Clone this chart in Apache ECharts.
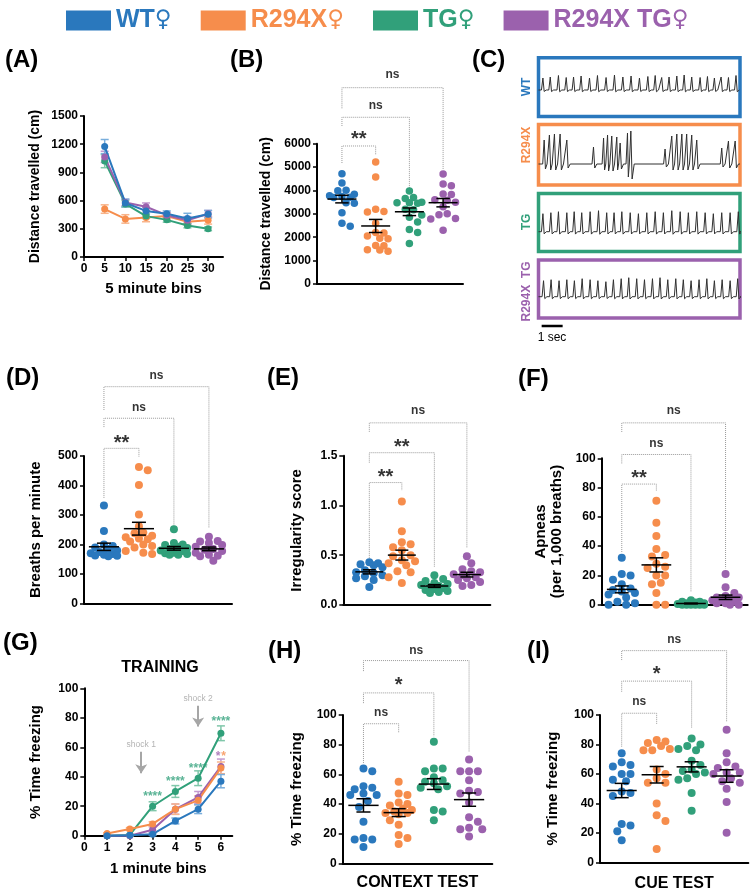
<!DOCTYPE html>
<html><head><meta charset="utf-8">
<script src="https://cdn.jsdelivr.net/npm/echarts@6/dist/echarts.min.js"></script>
<style>html,body{margin:0;padding:0;background:#fff}#c{width:753px;height:895px}</style>
</head><body><div id="c"></div>
<script>
// ================= DATA =================
const groups = ['WT♀', 'R294X♀', 'TG♀', 'R294X TG♀'];
const cats = [1, 2, 3, 4];

// (A) distance per 5-minute bin
const binsA = [5, 10, 15, 20, 25, 30];
const ticksA = [0, 5, 10, 15, 20, 25, 30];
const distA_WT = [1175, 575, 490, 460, 410, 455];
const semA_WT = [75, 40, 40, 30, 55, 40];
const distA_R294X = [510, 405, 420, 435, 375, 390];
const semA_R294X = [45, 45, 45, 35, 30, 40];
const distA_TG = [1020, 565, 435, 395, 335, 300];
const semA_TG = [70, 35, 25, 25, 25, 20];
const distA_R294XTG = [1065, 580, 535, 445, 390, 460];
const semA_R294XTG = [60, 35, 40, 30, 40, 35];

// (B) total distance travelled
const distB_WT = [4720, 4320, 4010, 3990, 3840, 3770, 3740, 3710, 3700, 3480, 3450, 3050, 2600, 2470];
const distB_R294X = [5220, 4580, 3200, 3100, 3080, 2600, 2200, 2180, 2050, 1960, 1940, 1650, 1640, 1460, 1450, 1400];
const distB_TG = [3980, 3700, 3660, 3500, 3480, 3470, 3450, 3200, 3180, 2950, 2850, 2650, 2330, 2200, 1730];
const distB_R294XTG = [4700, 4280, 4200, 3850, 3830, 3600, 3580, 3500, 3300, 3000, 2960, 2800, 2780, 2300];

// (C) breathing traces: peak times (s), amplitudes, troughs
const traceWT_t = [0.21,0.56,0.95,1.32,1.67,2.03,2.43,2.81,3.22,3.62,4.02,4.41,4.81,5.21,5.56,5.87,6.22,6.59,6.94,7.30,7.70,8.05,8.38,8.70,9.05,9.41];
const traceWT_a = [1.2,1.3,1.45,1.25,1.3,1.4,1.2,1.45,1.25,1.5,1.3,1.4,1.2,1.35,1.45,1.25,1.3,1.4,1.5,1.3,1.25,1.35,1.2,1.3,1.25,1.45];
const traceR294X_t = [0.27,0.52,0.76,1.03,1.35,2.62,3.10,3.29,3.49,3.73,3.89,4.24,4.40,6.03,6.35,6.59,6.83,7.06,7.30,7.54,8.73,9.05,9.37];
const traceR294X_a = [2.4,2.9,3.0,3.0,2.4,1.7,2.6,2.9,2.8,2.7,2.1,3.1,3.3,1.5,2.8,3.0,3.0,3.0,2.9,2.4,1.6,2.3,2.3];
const traceR294X_tr = [-0.5,-0.6,-0.6,-0.6,-0.4,-0.4,-0.6,-0.7,-0.7,-0.6,-0.5,-1.3,-1.5,-0.3,-0.6,-0.6,-0.6,-0.6,-0.6,-0.5,-0.3,-0.4,-0.4];
const traceTG_t = [0.21,0.59,0.95,1.35,1.70,2.06,2.46,2.86,3.25,3.60,3.97,4.37,4.76,5.16,5.56,5.95,6.35,6.75,7.14,7.54,7.94,8.33,8.73,9.13,9.52];
const traceTG_a = [1.8,1.9,2.0,1.9,2.0,1.9,2.0,2.1,1.9,1.9,2.0,1.9,1.8,1.9,2.0,1.9,2.1,2.0,1.9,2.0,1.9,1.8,1.9,1.9,2.0];
const traceR294XTG_t = [0.24,0.60,0.98,1.35,1.71,2.08,2.46,2.83,3.21,3.57,3.94,4.30,4.68,5.05,5.43,5.79,6.16,6.54,6.90,7.27,7.65,8.02,8.38,8.75,9.13,9.49];
const traceR294XTG_a = [1.6,1.7,1.6,1.7,1.6,1.8,1.7,1.6,1.5,1.7,1.8,1.9,1.8,1.7,1.8,1.9,1.7,1.8,1.7,1.6,1.7,1.8,1.6,1.7,1.6,1.8];
const traceLabels = ['WT', 'R294X', 'TG', 'R294X  TG'];
const scaleBarSec = [0.15, 1.15];

// (D) breaths per minute
const bpm_WT = [332, 246, 200, 195, 190, 185, 180, 175, 170, 168, 165, 163, 162, 160];
const bpm_R294X = [463, 452, 402, 302, 262, 240, 238, 230, 225, 220, 218, 210, 200, 195, 190, 178, 172, 168];
const bpm_TG = [252, 205, 200, 198, 192, 188, 185, 180, 178, 172, 170, 168, 165, 165];
const bpm_R294XTG = [226, 212, 210, 205, 198, 192, 185, 182, 178, 172, 165, 162, 160, 145];

// (E) irregularity score
const irr_WT = [0.43, 0.42, 0.41, 0.40, 0.38, 0.35, 0.33, 0.32, 0.30, 0.29, 0.27, 0.25, 0.18];
const irr_R294X = [1.04, 0.74, 0.63, 0.61, 0.58, 0.55, 0.50, 0.49, 0.44, 0.45, 0.42, 0.40, 0.34, 0.33, 0.28, 0.22];
const irr_TG = [0.30, 0.26, 0.24, 0.22, 0.21, 0.20, 0.19, 0.18, 0.17, 0.16, 0.15, 0.14, 0.13, 0.12];
const irr_R294XTG = [0.49, 0.42, 0.36, 0.34, 0.33, 0.31, 0.30, 0.28, 0.27, 0.25, 0.23, 0.20, 0.19];

// (F) apneas per 1,000 breaths
const apn_WT = [32, 21, 20, 17, 14, 10, 11, 8, 9, 7, 5, 2, 1, 0, 0];
const apn_R294X = [71, 56, 47, 38, 34, 33, 28, 26, 25, 20, 20, 15, 14, 8, 0, 0];
const apn_TG = [3, 2, 2, 1.5, 1, 1, 0.5, 0.5, 0, 0, 0, 0, 0, 0];
const apn_R294XTG = [21, 12, 8, 6, 5, 5, 4, 3, 3, 2, 1, 1, 0, 0];

// (G) training freezing per 1-minute bin
const binsG = [1, 2, 3, 4, 5, 6];
const ticksG = [0, 1, 2, 3, 4, 5, 6];
const frzG_WT = [0, 0.3, 1, 10, 18, 37];
const semG_WT = [0, 0.3, 0.8, 2, 3, 4.5];
const frzG_R294X = [1.5, 4.5, 8, 18, 24, 46];
const semG_R294X = [0.5, 1, 1.5, 3.5, 3, 4];
const frzG_TG = [0, 0.5, 20, 30, 39, 69.5];
const semG_TG = [0, 0.5, 3, 4, 5, 5];
const frzG_R294XTG = [0, 0, 4, 18, 26, 47];
const semG_R294XTG = [0, 0, 2, 3.5, 4, 5];
const starsG_TG = [[3, 28.8, '****'], [4, 38.5, '****'], [5, 47.5, '****'], [6, 79.2, '****']];
const starsG_R294XTG = [[5.88, 55.4, '*']];
const starsG_R294X = [[6.12, 55.4, '*']];
const shocksG = [[2.5, 57, 42.3, 'shock 1', 62], [5, 88.2, 74, 'shock 2', 92.7]];

// (H) context test
const ctx_WT = [64, 62, 52, 51, 50, 47, 46, 46, 42, 38, 28, 17, 16, 16, 11];
const ctx_R294X = [55, 47, 46, 41, 40, 39, 37, 36, 35, 34, 34, 33, 29, 26, 19, 17, 13];
const ctx_TG = [82, 64, 64, 62, 58, 56, 55, 54, 52, 51, 50, 36, 35, 29];
const ctx_R294XTG = [70, 62, 62, 62, 56, 49, 48, 47, 41, 31, 28, 24, 23, 23, 18];

// (I) cue test
const cue_WT = [74, 68, 66, 65, 60, 60, 56, 55, 48, 47, 45, 26, 25, 21, 15];
const cue_R294X = [83, 82, 81, 79, 77, 76, 76, 63, 60, 57, 54, 54, 40, 32, 28, 9];
const cue_TG = [84, 80, 79, 77, 76, 69, 66, 63, 62, 61, 60, 57, 56, 47, 35];
const cue_R294XTG = [90, 74, 68, 65, 64, 61, 61, 60, 57, 55, 54, 50, 41, 20];

// significance brackets: [from, to, level, leftEnd, rightEnd, label, labelLevel]
const sigB = [[1,2,5902,5175,5517,'**',6373],[1,3,7130,6758,3879,'ns',7613],[1,4,8396,7514,4905,'ns',8939]];
const sigD = [[1,2,526,358,498,'**',561],[1,3,628,598,260,'ns',664],[1,4,735,656,256,'ns',772]];
const sigE = [[1,2,1.23,0.45,1.15,'**',1.33],[1,3,1.53,1.43,0.385,'**',1.63],[1,4,1.83,1.74,0.57,'ns',1.95]];
const sigF = [[1,2,82.4,36,77.8,'**',89.3],[1,3,102.6,96.5,8.9,'ns',110.2],[1,4,124.2,118,24.8,'ns',132.3]];
const sigH = [[1,2,94.1,67.6,87.8,'ns',101.8],[1,3,114.9,108,85.5,'*',123.5],[1,4,136.7,129.6,75.4,'ns',143.3]];
const sigI = [[1,2,101.2,78.5,93.9,'ns',109],[1,3,123,115.8,91,'*',130.6],[1,4,143.7,137.3,95.5,'ns',151]];

// ================= STYLE / LAYOUT =================
const FONT = "'Liberation Sans', Arial, Helvetica, sans-serif";
const BLACK = '#000';
const colors = ['#2a78bd', '#f68d4c', '#31a07a', '#9b61ad'];
const lightColors = ['#79aedc', '#f9b48a', '#80c7aa', '#c39ad0'];
const BRACKET = '#9a9a9a';

const G = [
  {left:84, top:116, width:139, height:141},          // 0 A
  {left:317, top:143.7, width:146, height:140.3},     // 1 B
  {left:538.5, top:57.8, width:201.5, height:58.8},   // 2 C WT
  {left:538.5, top:124.5, width:201.5, height:60.5},  // 3 C R294X
  {left:538.5, top:193.5, width:201.5, height:58},    // 4 C TG
  {left:538.5, top:260, width:201.5, height:58},      // 5 C R294X TG
  {left:84, top:456, width:148, height:147.5},        // 6 D
  {left:343.3, top:455.7, width:147, height:149.3},   // 7 E
  {left:601.7, top:458.3, width:146, height:146.4},   // 8 F
  {left:84.3, top:688.3, width:148, height:147.4},    // 9 G
  {left:342.7, top:715, width:149.6, height:148.3},   // 10 H
  {left:600, top:715, width:148.3, height:147.3}      // 11 I
];

const grids = G.map((g, i) => Object.assign({containLabel:false, outerBoundsMode:'none'}, g,
  (i >= 2 && i <= 5) ? {show:true, borderColor: colors[i-2], borderWidth:3.5, backgroundColor:'rgba(0,0,0,0)'} : {show:false}));

const xAxes = [], yAxes = [];
const axLine = {show:true, onZero:false, lineStyle:{color:BLACK, width:2}};
const tickCfg = {show:true, length:4, lineStyle:{color:BLACK, width:1.5}};
const lblCfg = {color:BLACK, fontWeight:'bold', fontSize:12, fontFamily:FONT, margin:6};
const plain = v => String(v);

function yAx(gi, min, max, interval, name, gap, size, fmt) {
  return {type:'value', gridIndex:gi, min, max, interval, name, nameLocation:'middle', nameGap:gap, nameRotate:90,
    nameTextStyle:{color:BLACK, fontWeight:'bold', fontSize:size, fontFamily:FONT, lineHeight:16},
    axisLine:axLine, axisTick:tickCfg, axisLabel:Object.assign({}, lblCfg, {formatter: fmt || plain}), splitLine:{show:false}};
}
function xCat(gi, min, max, name, gap) {
  return {type:'value', gridIndex:gi, min, max, name: name || '', nameLocation:'middle', nameGap:gap || 10,
    nameTextStyle:{color:BLACK, fontWeight:'bold', fontSize:16, fontFamily:FONT},
    axisLine:axLine, axisTick:{show:false}, axisLabel:{show:false}, splitLine:{show:false}};
}
function xNum(gi, min, max, ticks, name, gap) {
  return {type:'value', gridIndex:gi, min, max, name, nameLocation:'middle', nameGap:gap,
    nameTextStyle:{color:BLACK, fontWeight:'bold', fontSize:15, fontFamily:FONT},
    axisLine:axLine, axisTick:Object.assign({customValues:ticks}, tickCfg),
    axisLabel:Object.assign({customValues:ticks}, lblCfg, {formatter: v => (ticks.indexOf(v) >= 0 ? String(v) : '')}),
    splitLine:{show:false}};
}
function xHidden(gi, min, max) { return {type:'value', gridIndex:gi, min, max, show:false}; }
function yHidden(gi, min, max) { return {type:'value', gridIndex:gi, min, max, show:false}; }

// axes per grid
xAxes[0] = xNum(0, 0, 33.6, ticksA, '5 minute bins', 24);
yAxes[0] = yAx(0, 0, 1500, 300, 'Distance travelled (cm)', 41, 14);
xAxes[1] = xCat(1, 0.26, 4.59);
yAxes[1] = yAx(1, 0, 6000, 1000, 'Distance travelled (cm)', 43, 14);
const cY = [[-2.66, 3.22], [-2.1, 3.95], [-1.98, 3.82], [-2.13, 3.67]];
for (let k = 0; k < 4; k++) { xAxes[2+k] = xHidden(2+k, 0, 9.6); yAxes[2+k] = yHidden(2+k, cY[k][0], cY[k][1]); }
xAxes[6] = xCat(6, 0.43, 4.66);
yAxes[6] = yAx(6, 0, 500, 100, 'Breaths per minute', 40, 15);
xAxes[7] = xCat(7, 0.2, 4.72);
yAxes[7] = yAx(7, 0, 1.5, 0.5, 'Irregularity score', 38, 15, v => v.toFixed(1));
xAxes[8] = xCat(8, 0.42, 4.64);
yAxes[8] = yAx(8, 0, 100, 20, 'Apneas\n(per 1,000 breaths)', 37, 15);
xAxes[9] = xNum(9, 0, 6.5, ticksG, '1 minute bins', 26);
yAxes[9] = yAx(9, 0, 100, 20, '% Time freezing', 40, 15);
xAxes[10] = xCat(10, 0.41, 4.66, 'CONTEXT TEST', 11);
yAxes[10] = yAx(10, 0, 100, 20, '% Time freezing', 38, 15);
xAxes[11] = xCat(11, 0.38, 4.62, 'CUE TEST', 13);
yAxes[11] = yAx(11, 0, 100, 20, '% Time freezing', 39, 15);

// ================= HELPERS =================
const mean = a => a.reduce((s, v) => s + v, 0) / a.length;
const sem = a => { const m = mean(a); return Math.sqrt(a.reduce((s, v) => s + (v - m) * (v - m), 0) / (a.length - 1) / a.length); };

// beeswarm: spreads points horizontally (in pixels) so dots do not overlap
function swarm(vals, cat, gi, d) {
  const g = G[gi], xa = xAxes[gi], ya = yAxes[gi];
  const pxX = g.width / (xa.max - xa.min), pxY = g.height / (ya.max - ya.min);
  const maxOff = 0.46 * pxX, step = d * 0.55;
  const placed = [], out = [];
  const order = vals.map((v, i) => i).sort((a, b) => vals[b] - vals[a]);
  const cands = [0];
  for (let k = 1; k * step <= maxOff; k++) cands.push(k * step, -k * step);
  for (const i of order) {
    const py = vals[i] * pxY;
    let best = 0, bestScore = -1;
    for (const c of cands) {
      let minD = Infinity;
      for (const p of placed) { const dd = Math.hypot(p[0] - c, p[1] - py); if (dd < minD) minD = dd; }
      if (minD >= d * 0.98) { best = c; break; }
      if (minD > bestScore) { bestScore = minD; best = c; }
    }
    placed.push([best, py]);
    out[i] = [cat + best / pxX, vals[i]];
  }
  return out;
}

function meanRender(params, api) {
  const x = api.value(0), m = api.value(1), s = api.value(2);
  const L = (p1, p2) => ({type:'line', shape:{x1:p1[0], y1:p1[1], x2:p2[0], y2:p2[1]}, style:{stroke:BLACK, lineWidth:1.5}});
  return {type:'group', children:[
    L(api.coord([x - 0.43, m]), api.coord([x + 0.43, m])),
    L(api.coord([x, m + s]), api.coord([x, m - s])),
    L(api.coord([x - 0.2, m + s]), api.coord([x + 0.2, m + s])),
    L(api.coord([x - 0.2, m - s]), api.coord([x + 0.2, m - s]))
  ]};
}
function errRender(color) {
  return function (params, api) {
    const x = api.value(0), y = api.value(1), e = api.value(2);
    if (!e) return null;
    const t = api.coord([x, y + e]), b = api.coord([x, y - e]), w = 4;
    const st = {stroke:color, lineWidth:1.5};
    return {type:'group', children:[
      {type:'line', shape:{x1:t[0], y1:t[1], x2:b[0], y2:b[1]}, style:st},
      {type:'line', shape:{x1:t[0]-w, y1:t[1], x2:t[0]+w, y2:t[1]}, style:st},
      {type:'line', shape:{x1:b[0]-w, y1:b[1], x2:b[0]+w, y2:b[1]}, style:st}
    ]};
  };
}

const series = [];
const base = {silent:true, animation:false};

function linePanel(gi, xs, ys, es, order) {
  order.forEach(k => {
    series.push(Object.assign({type:'custom', xAxisIndex:gi, yAxisIndex:gi, renderItem:errRender(lightColors[k]),
      data: xs.map((x, i) => [x, ys[k][i], es[k][i]]), z:2}, base));
  });
  order.forEach(k => {
    series.push(Object.assign({type:'line', name: gi === 0 ? groups[k] : undefined, xAxisIndex:gi, yAxisIndex:gi,
      data: xs.map((x, i) => [x, ys[k][i]]), symbol:'circle', symbolSize:7, showSymbol:true,
      lineStyle:{color:colors[k], width:2}, itemStyle:{color:colors[k]}, z:3, clip:false}, base));
  });
}

function dotPanel(gi, sets, sig, size) {
  sets.forEach((vals, k) => {
    series.push(Object.assign({type:'scatter', xAxisIndex:gi, yAxisIndex:gi, data: swarm(vals, cats[k], gi, size),
      symbolSize:size, itemStyle:{color:colors[k], opacity:1}, clip:false, z:3}, base));
  });
  series.push(Object.assign({type:'custom', xAxisIndex:gi, yAxisIndex:gi, renderItem:meanRender,
    data: sets.map((vals, k) => [cats[k], mean(vals), sem(vals)]), z:5}, base));
  sig.forEach(b => {
    series.push(Object.assign({type:'line', xAxisIndex:gi, yAxisIndex:gi,
      data:[[b[0], b[3]], [b[0], b[2]], [b[1], b[2]], [b[1], b[4]]], symbol:'none',
      lineStyle:{color:BRACKET, width:1, type:'dotted'}, clip:false, z:1}, base));
  });
  series.push(Object.assign({type:'scatter', xAxisIndex:gi, yAxisIndex:gi, symbolSize:1, clip:false, z:6,
    itemStyle:{color:'rgba(0,0,0,0)'},
    data: sig.map(b => {
      const star = b[5] !== 'ns';
      return {value:[(b[0] + b[1]) / 2, b[6], b[5]], label:{show:true, position:'inside', formatter:p => p.value[2],
        color:BLACK, fontWeight:'bold', fontFamily:FONT, fontSize: star ? 20 : 12, offset: star ? [0, 5] : [0, 0]}};
    })}, base));
}

function buildTrace(ts, as, trs) {
  const pts = [[0, 0]];
  for (let i = 0; i < ts.length; i++) {
    const t = ts[i], a = as[i], tr = trs ? trs[i] : -0.12 * a;
    const prevT = i > 0 ? ts[i-1] : -1, nextT = i < ts.length - 1 ? ts[i+1] : 99;
    const rise = Math.min(0.07, (t - prevT) * 0.4);
    const dip = Math.min(0.06, (nextT - t) * 0.25);
    const back = Math.min(0.16, (nextT - t) * 0.55);
    pts.push([t - rise, 0], [t, a], [t + dip, tr], [t + back, 0]);
  }
  pts.push([9.6, 0]);
  return pts;
}

// ================= SERIES =================
linePanel(0, binsA, [distA_WT, distA_R294X, distA_TG, distA_R294XTG], [semA_WT, semA_R294X, semA_TG, semA_R294XTG], [1, 2, 3, 0]);
dotPanel(1, [distB_WT, distB_R294X, distB_TG, distB_R294XTG], sigB, 7.5);

const traces = [buildTrace(traceWT_t, traceWT_a), buildTrace(traceR294X_t, traceR294X_a, traceR294X_tr),
                buildTrace(traceTG_t, traceTG_a), buildTrace(traceR294XTG_t, traceR294XTG_a)];
traces.forEach((tr, k) => {
  series.push(Object.assign({type:'line', xAxisIndex:2+k, yAxisIndex:2+k, data:tr, symbol:'none',
    lineStyle:{color:'#303030', width:1}, clip:true, z:2}, base));
});
series.push(Object.assign({type:'line', xAxisIndex:5, yAxisIndex:5, data:[[scaleBarSec[0], -2.93], [scaleBarSec[1], -2.93]],
  symbol:'none', lineStyle:{color:BLACK, width:2.5}, clip:false}, base));

dotPanel(6, [bpm_WT, bpm_R294X, bpm_TG, bpm_R294XTG], sigD, 8);
dotPanel(7, [irr_WT, irr_R294X, irr_TG, irr_R294XTG], sigE, 8);
dotPanel(8, [apn_WT, apn_R294X, apn_TG, apn_R294XTG], sigF, 8);
linePanel(9, binsG, [frzG_WT, frzG_R294X, frzG_TG, frzG_R294XTG], [semG_WT, semG_R294X, semG_TG, semG_R294XTG], [2, 3, 1, 0]);
// G annotations
[[starsG_TG, colors[2]], [starsG_R294XTG, colors[3]], [starsG_R294X, colors[1]]].forEach(([arr, col]) => {
  series.push(Object.assign({type:'scatter', xAxisIndex:9, yAxisIndex:9, symbolSize:1, clip:false, z:6,
    itemStyle:{color:'rgba(0,0,0,0)'}, data: arr.map(s => [s[0], s[1], s[2]]),
    label:{show:true, position:'inside', formatter:p => p.value[2], color:col, fontWeight:'bold', fontSize:12, fontFamily:FONT, offset:[0, 3]}}, base));
});
series.push(Object.assign({type:'scatter', xAxisIndex:9, yAxisIndex:9, symbolSize:1, clip:false, z:6,
  itemStyle:{color:'rgba(0,0,0,0)'}, data: shocksG.map(s => [s[0], s[4], s[3]]),
  label:{show:true, position:'inside', formatter:p => p.value[2], color:'#a0a0a0', fontSize:8.5, fontFamily:FONT},
  markLine:{silent:true, animation:false, symbol:['none', 'arrow'], symbolSize:9, label:{show:false},
    lineStyle:{color:'#a6a6a6', width:2, type:'solid'},
    data: shocksG.map(s => [{coord:[s[0], s[1]]}, {coord:[s[0], s[2]]}])}}, base));

dotPanel(10, [ctx_WT, ctx_R294X, ctx_TG, ctx_R294XTG], sigH, 8);
dotPanel(11, [cue_WT, cue_R294X, cue_TG, cue_R294XTG], sigI, 8);

// ================= TEXT =================
const panelLetters = [['(A)', 5, 60], ['(B)', 230, 60], ['(C)', 472, 60], ['(D)', 6, 378], ['(E)', 267, 378],
                      ['(F)', 518, 379], ['(G)', 3, 643], ['(H)', 268, 651], ['(I)', 527, 651]];
const graphics = panelLetters.map(p => ({type:'text', x:p[1], y:p[2], silent:true,
  style:{text:p[0], fill:BLACK, fontSize:24, fontWeight:'bold', fontFamily:FONT, align:'left', verticalAlign:'middle'}}));
const cLabelPos = [[527, 87], [527, 145], [527, 222], [527, 291.5]];
traceLabels.forEach((t, k) => graphics.push({type:'text', x:cLabelPos[k][0], y:cLabelPos[k][1], rotation:Math.PI/2, silent:true,
  style:{text:t, fill:colors[k], fontSize:12, fontWeight:'bold', fontFamily:FONT, align:'center', verticalAlign:'middle'}}));
graphics.push({type:'text', x:552, y:338, silent:true, style:{text:'1 sec', fill:BLACK, fontSize:12, fontFamily:FONT, align:'center', verticalAlign:'middle'}});
graphics.push({type:'text', x:160, y:668, silent:true, style:{text:'TRAINING', fill:BLACK, fontSize:16, fontWeight:'bold', fontFamily:FONT, align:'center', verticalAlign:'middle'}});

const chart = echarts.init(document.getElementById('c'), null, {renderer:'canvas'});
chart.setOption({
  animation:false,
  backgroundColor:'#fff',
  textStyle:{fontFamily:FONT},
  legend:{show:true, left:61, top:3, icon:'rect', itemWidth:45, itemHeight:20, itemGap:29, selectedMode:false,
    formatter: name => '{t|' + name.replace('♀', '') + '}{s|♀}',
    textStyle:{fontSize:25, fontWeight:'bold', fontFamily:FONT,
      rich:{t:{fontSize:25, fontWeight:'bold', fontFamily:FONT}, s:{fontSize:23, fontWeight:'bold', fontFamily:"'DejaVu Sans', sans-serif"}}},
    data: groups.map((g, k) => ({name:g, itemStyle:{color:colors[k]}, textStyle:{color:colors[k]}}))},
  grid: grids, xAxis: xAxes, yAxis: yAxes, series, graphic: graphics
});
</script></body></html>
